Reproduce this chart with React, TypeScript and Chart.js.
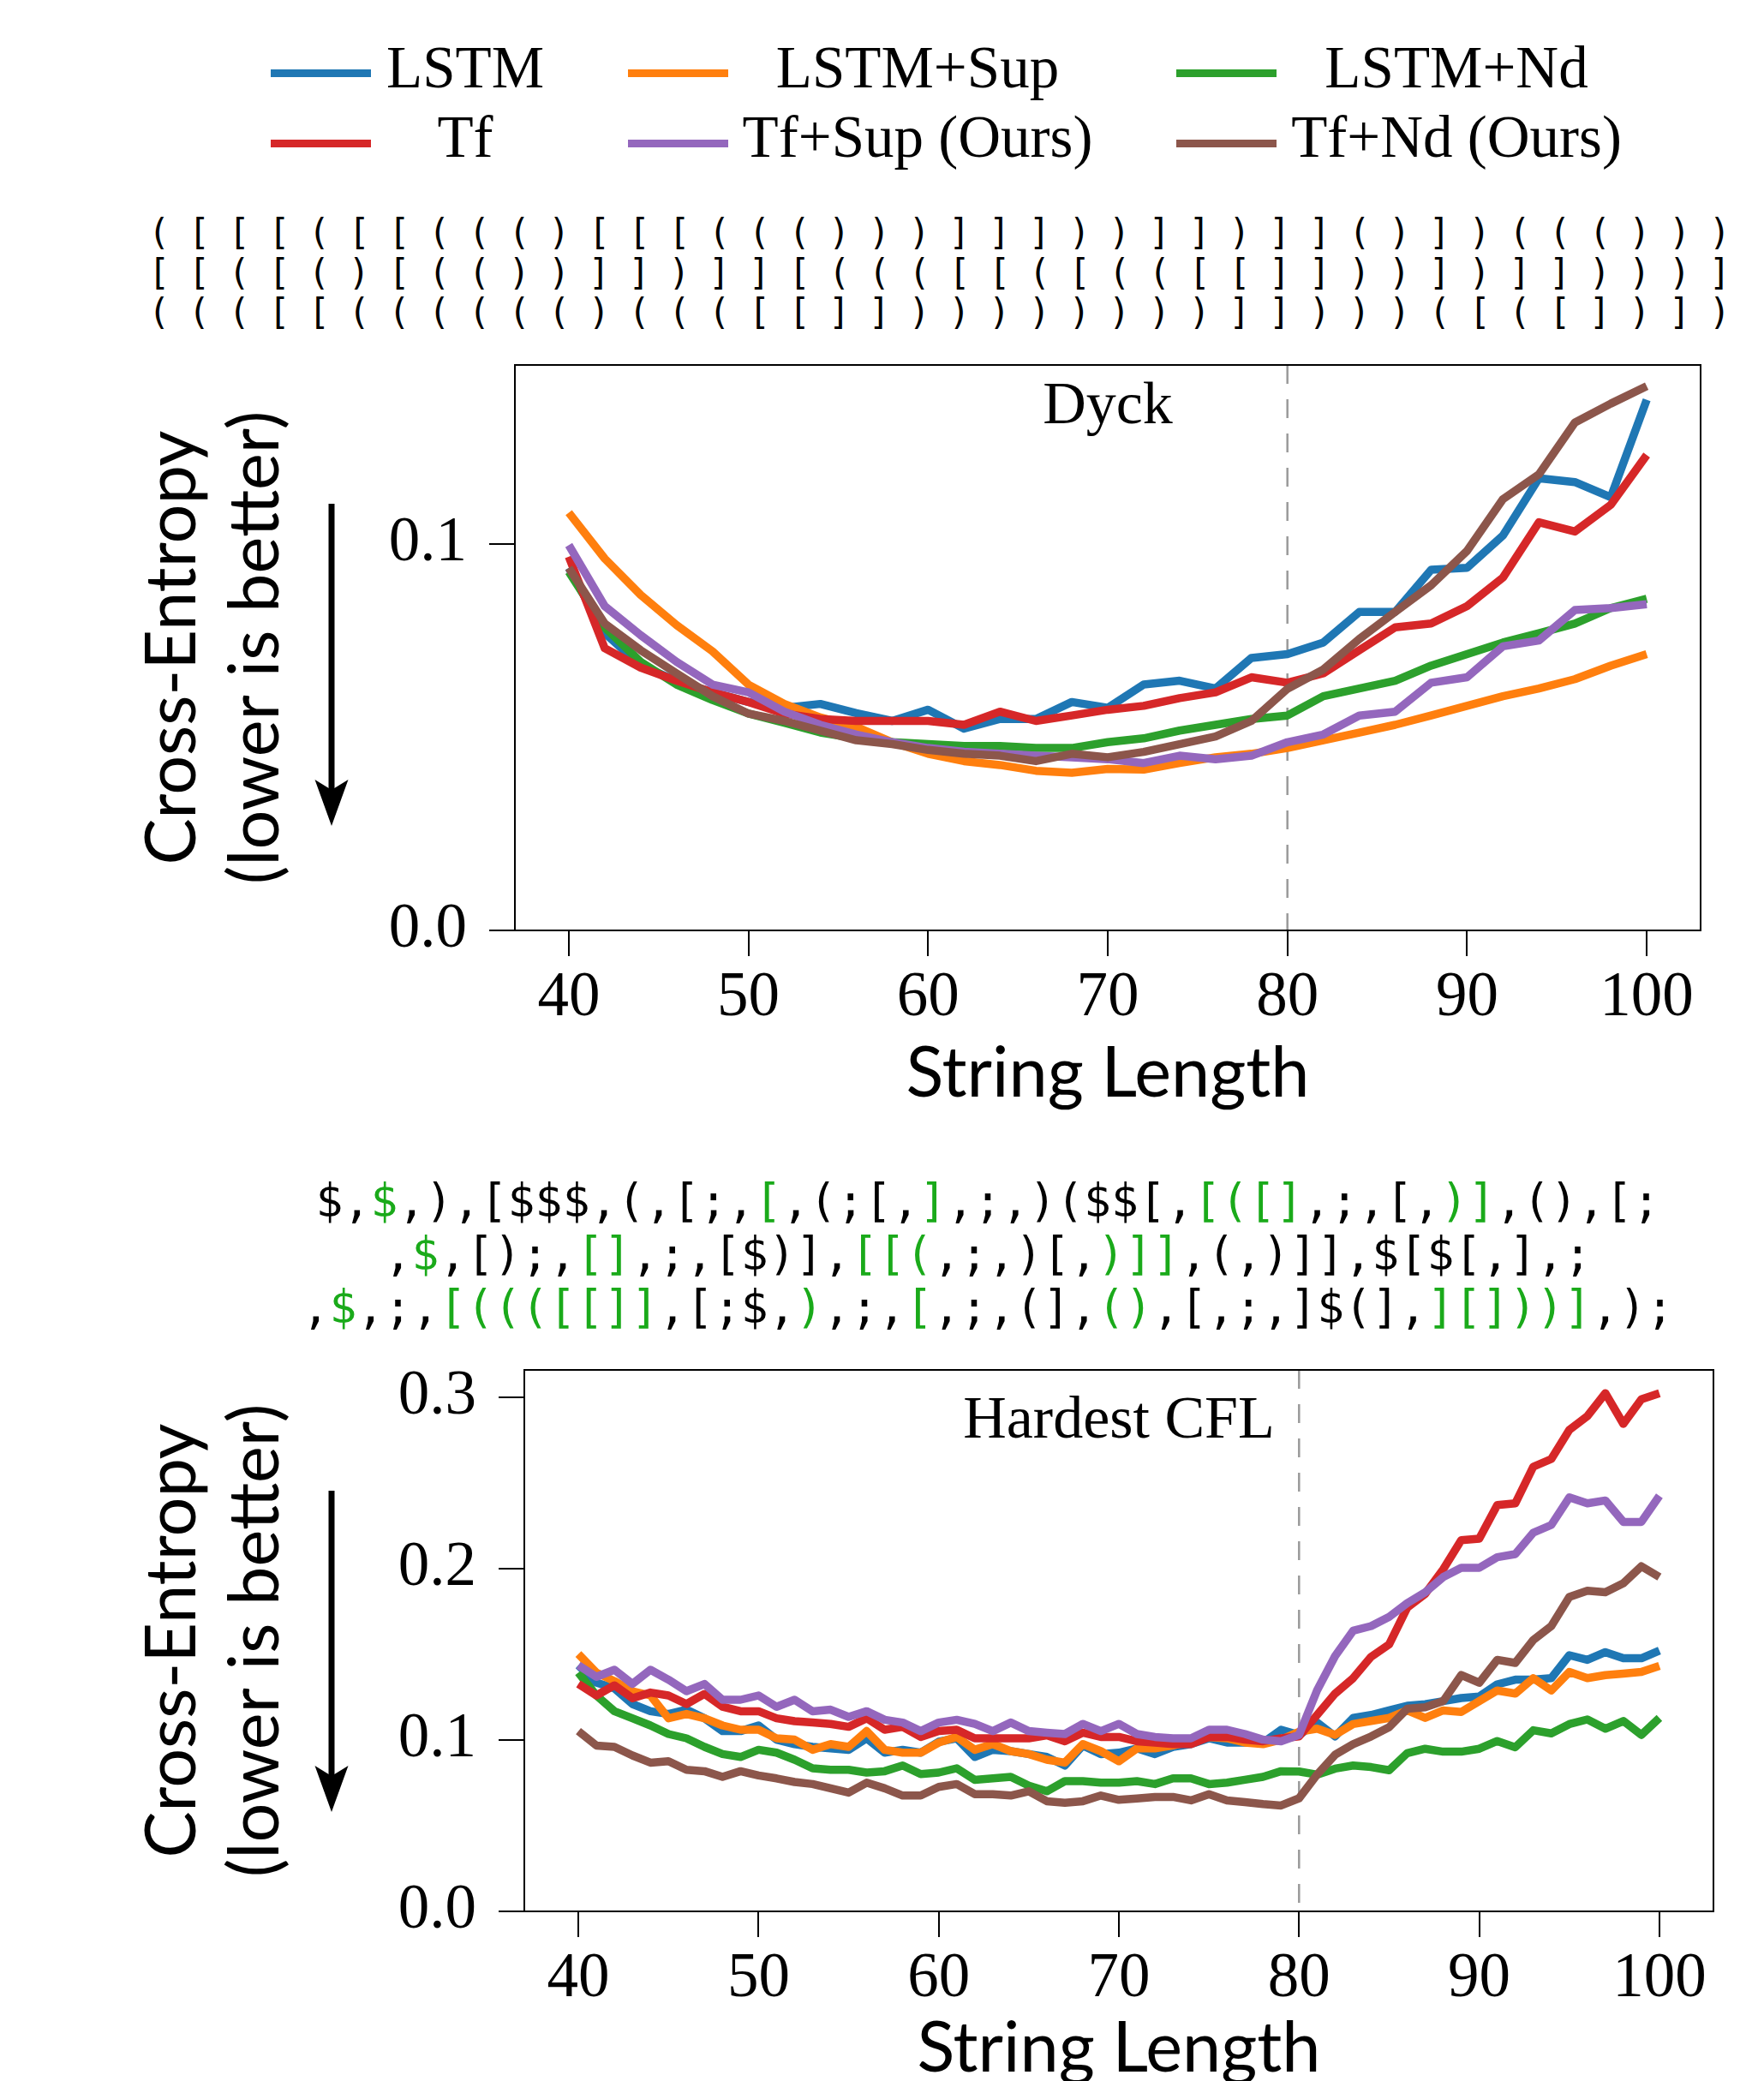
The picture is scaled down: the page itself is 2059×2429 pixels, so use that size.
import React, { useEffect, useRef } from 'react';
import { Chart, registerables } from 'chart.js';

Chart.register(...registerables);

// ---------------- data ----------------
const SERIES_LABELS = ['LSTM', 'LSTM+Sup', 'LSTM+Nd', 'Tf', 'Tf+Sup (Ours)', 'Tf+Nd (Ours)'];
const SERIES_COLORS = ['#1f77b4', '#ff7f0e', '#2ca02c', '#d62728', '#9467bd', '#8c564b'];

const X_TICKS = [40, 50, 60, 70, 80, 90, 100];
const DYCK_Y_TICKS = [0, 0.1];
const CFL_Y_TICKS = [0, 0.1, 0.2, 0.3];

const DYCK_LENGTHS = [40, 42, 44, 46, 48, 50, 52, 54, 56, 58, 60, 62, 64, 66, 68, 70, 72, 74, 76, 78, 80, 82, 84, 86, 88, 90, 92, 94, 96, 98, 100];
const DYCK_LSTM = [0.0938, 0.0769, 0.0685, 0.0646, 0.0616, 0.0591, 0.0576, 0.0586, 0.0562, 0.0542, 0.0571, 0.0522, 0.0547, 0.0547, 0.0591, 0.0576, 0.0636, 0.0646, 0.0626, 0.0705, 0.0715, 0.0745, 0.0824, 0.0824, 0.0933, 0.0938, 0.1022, 0.1170, 0.1160, 0.1121, 0.1373];
const DYCK_LSTM_SUP = [0.1081, 0.0962, 0.0868, 0.0790, 0.0722, 0.0636, 0.0586, 0.0551, 0.0527, 0.0487, 0.0457, 0.0438, 0.0428, 0.0413, 0.0408, 0.0418, 0.0416, 0.0433, 0.0448, 0.0457, 0.0472, 0.0492, 0.0512, 0.0532, 0.0556, 0.0581, 0.0606, 0.0626, 0.0650, 0.0685, 0.0715];
const DYCK_LSTM_ND = [0.0928, 0.0784, 0.0695, 0.0636, 0.0596, 0.0561, 0.0537, 0.0512, 0.0497, 0.0487, 0.0482, 0.0477, 0.0477, 0.0472, 0.0472, 0.0487, 0.0497, 0.0517, 0.0532, 0.0547, 0.0556, 0.0606, 0.0626, 0.0646, 0.0685, 0.0715, 0.0745, 0.0769, 0.0794, 0.0834, 0.0858];
const DYCK_TF = [0.0967, 0.0730, 0.0680, 0.0646, 0.0616, 0.0591, 0.0561, 0.0547, 0.0542, 0.0542, 0.0542, 0.0532, 0.0566, 0.0542, 0.0556, 0.0571, 0.0581, 0.0601, 0.0616, 0.0655, 0.0641, 0.0665, 0.0725, 0.0784, 0.0794, 0.0839, 0.0913, 0.1056, 0.1032, 0.1101, 0.1230];
const DYCK_TF_SUP = [0.0997, 0.0839, 0.0764, 0.0695, 0.0636, 0.0616, 0.0566, 0.0532, 0.0507, 0.0487, 0.0472, 0.0462, 0.0457, 0.0452, 0.0448, 0.0443, 0.0433, 0.0452, 0.0443, 0.0452, 0.0487, 0.0507, 0.0556, 0.0566, 0.0641, 0.0655, 0.0735, 0.0750, 0.0829, 0.0834, 0.0844];
const DYCK_TF_ND = [0.0938, 0.0794, 0.0725, 0.0665, 0.0606, 0.0561, 0.0542, 0.0517, 0.0492, 0.0482, 0.0467, 0.0457, 0.0452, 0.0438, 0.0457, 0.0448, 0.0462, 0.0482, 0.0502, 0.0542, 0.0625, 0.0675, 0.0754, 0.0824, 0.0893, 0.0982, 0.1116, 0.1180, 0.1314, 0.1363, 0.1408];

const CFL_LENGTHS = [40, 41, 42, 43, 44, 45, 46, 47, 48, 49, 50, 51, 52, 53, 54, 55, 56, 57, 58, 59, 60, 61, 62, 63, 64, 65, 66, 67, 68, 69, 70, 71, 72, 73, 74, 75, 76, 77, 78, 79, 80, 81, 82, 83, 84, 85, 86, 87, 88, 89, 90, 91, 92, 93, 94, 95, 96, 97, 98, 99, 100];
const CFL_LSTM = [
  0.1436, 0.1335, 0.1302, 0.1210, 0.1168, 0.1152, 0.1177, 0.1127, 0.1052, 0.1052,
  0.1085, 0.1002, 0.0976, 0.0960, 0.0951, 0.0943, 0.1010, 0.0926, 0.0943, 0.0926,
  0.0990, 0.1010, 0.0901, 0.0943, 0.0935, 0.0918, 0.0901, 0.0851, 0.0968, 0.0918,
  0.0926, 0.0951, 0.0918, 0.0960, 0.0976, 0.1010, 0.0985, 0.0985, 0.0985, 0.1060,
  0.1030, 0.1102, 0.1021, 0.1129, 0.1146, 0.1173, 0.1200, 0.1209, 0.1227, 0.1245,
  0.1254, 0.1325, 0.1352, 0.1352, 0.1361, 0.1495, 0.1468, 0.1513, 0.1477, 0.1477, 0.1522];
const CFL_LSTM_SUP = [
  0.1502, 0.1394, 0.1344, 0.1285, 0.1260, 0.1127, 0.1152, 0.1127, 0.1085, 0.1060,
  0.1060, 0.1010, 0.1002, 0.0943, 0.0976, 0.0960, 0.1052, 0.0943, 0.0926, 0.0926,
  0.0985, 0.1018, 0.0943, 0.0976, 0.0935, 0.0918, 0.0885, 0.0868, 0.0976, 0.0935,
  0.0876, 0.0951, 0.0951, 0.0968, 0.0993, 0.1018, 0.1010, 0.0985, 0.0976, 0.1002,
  0.1048, 0.1066, 0.1030, 0.1093, 0.1111, 0.1129, 0.1173, 0.1129, 0.1173, 0.1164,
  0.1227, 0.1289, 0.1271, 0.1361, 0.1289, 0.1397, 0.1361, 0.1379, 0.1388, 0.1397, 0.1433];
const CFL_LSTM_ND = [
  0.1394, 0.1260, 0.1168, 0.1127, 0.1085, 0.1035, 0.1010, 0.0960, 0.0918, 0.0901,
  0.0943, 0.0926, 0.0885, 0.0835, 0.0826, 0.0826, 0.0810, 0.0818, 0.0851, 0.0801,
  0.0810, 0.0835, 0.0768, 0.0776, 0.0785, 0.0734, 0.0701, 0.0760, 0.0760, 0.0751,
  0.0751, 0.0760, 0.0743, 0.0776, 0.0776, 0.0743, 0.0751, 0.0768, 0.0785, 0.0818,
  0.0816, 0.0798, 0.0833, 0.0851, 0.0842, 0.0824, 0.0923, 0.0949, 0.0932, 0.0932,
  0.0949, 0.0994, 0.0958, 0.1057, 0.1039, 0.1093, 0.1120, 0.1066, 0.1111, 0.1030, 0.1129];
const CFL_TF = [
  0.1327, 0.1260, 0.1319, 0.1244, 0.1277, 0.1260, 0.1210, 0.1269, 0.1194, 0.1168,
  0.1168, 0.1127, 0.1110, 0.1102, 0.1094, 0.1077, 0.1127, 0.1060, 0.1077, 0.1018,
  0.1052, 0.1060, 0.1010, 0.1010, 0.1010, 0.1010, 0.1027, 0.0993, 0.1043, 0.1018,
  0.1018, 0.0993, 0.0985, 0.0976, 0.0976, 0.1018, 0.1018, 0.1002, 0.0993, 0.1010,
  0.1021, 0.1146, 0.1271, 0.1361, 0.1486, 0.1558, 0.1772, 0.1853, 0.1996, 0.2166,
  0.2175, 0.2371, 0.2381, 0.2595, 0.2640, 0.2810, 0.2890, 0.3024, 0.2845, 0.2989, 0.3024];
const CFL_TF_SUP = [
  0.1436, 0.1369, 0.1410, 0.1327, 0.1410, 0.1352, 0.1285, 0.1327, 0.1235, 0.1235,
  0.1260, 0.1194, 0.1235, 0.1168, 0.1177, 0.1135, 0.1168, 0.1118, 0.1102, 0.1052,
  0.1102, 0.1118, 0.1094, 0.1052, 0.1102, 0.1052, 0.1043, 0.1035, 0.1094, 0.1052,
  0.1094, 0.1035, 0.1018, 0.1010, 0.1010, 0.1060, 0.1060, 0.1035, 0.1002, 0.0993,
  0.1030, 0.1290, 0.1490, 0.1638, 0.1665, 0.1719, 0.1799, 0.1862, 0.1951, 0.2005,
  0.2005, 0.2067, 0.2085, 0.2210, 0.2255, 0.2416, 0.2381, 0.2398, 0.2273, 0.2273, 0.2425];
const CFL_TF_ND = [
  0.1052, 0.0968, 0.0960, 0.0910, 0.0868, 0.0876, 0.0826, 0.0818, 0.0785, 0.0818,
  0.0793, 0.0776, 0.0755, 0.0743, 0.0718, 0.0693, 0.0751, 0.0718, 0.0676, 0.0676,
  0.0726, 0.0743, 0.0684, 0.0684, 0.0676, 0.0701, 0.0643, 0.0634, 0.0643, 0.0676,
  0.0651, 0.0659, 0.0668, 0.0668, 0.0648, 0.0684, 0.0648, 0.0638, 0.0626, 0.0618,
  0.0660, 0.0798, 0.0914, 0.0976, 0.1021, 0.1075, 0.1182, 0.1191, 0.1227, 0.1379,
  0.1334, 0.1468, 0.1450, 0.1584, 0.1665, 0.1835, 0.1871, 0.1862, 0.1915, 0.2014, 0.1951];

const DYCK_STRINGS = [
  '( [ [ [ ( [ [ ( ( ( ) [ [ [ ( ( ( ) ) ) ] ] ] ) ) ] ] ) ] ] ( ) ] ) ( ( ( ) ) )',
  '[ [ ( [ ( ) [ ( ( ) ) ] ] ) ] ] [ ( ( ( [ [ ( [ ( ( [ [ ] ] ) ) ] ) ] ] ) ) ) ]',
  '( ( ( [ [ ( ( ( ( ( ( ) ( ( ( [ [ ] ] ) ) ) ) ) ) ) ) ] ] ) ) ) ( [ ( [ ] ) ] )',
];
const CFL_STRINGS = [
  '$,$,),[$$$,(,[;,[,(;[,],;,)($$[,[([],;,[,)],(),[;',
  ',$,[);,[],;,[$)],[[(,;,)[,)]],(,)]],$[$[,],;',
  ',$,;,[((([[]],[;$,),;,[,;,(],(),[,;,]$(],][]))],);',
];
const CFL_GREEN_MASKS = [
  '..g.............g.....g.........gggg.....gg......',
  '.g.....gg........ggg......ggg...............',
  '.g...gggggggg.....g...g......gg..........gggggg...',
];

const X_TITLE = 'String Length';
const Y_TITLE = ['Cross-Entropy', '(lower is better)'];
const DYCK_TITLE = 'Dyck';
const CFL_TITLE = 'Hardest CFL';

// ---------------- style ----------------
const SERIF = '"Liberation Serif", "Times New Roman", serif';
const SANS = 'Lato, "Open Sans", sans-serif';
const MONO = '"DejaVu Sans Mono", monospace';
const GREEN = '#1aaa1a';
const W = 2059;

const decorPlugin = {
  id: 'panelDecor',
  beforeDatasetsDraw(chart: any, _args: any, opts: any) {
    const { ctx, chartArea } = chart;
    const px = chart.scales.x.getPixelForValue(opts.dashedAt);
    ctx.save();
    ctx.strokeStyle = '#9a9a9a';
    ctx.lineWidth = 2.5;
    ctx.setLineDash([22, 18]);
    ctx.beginPath();
    ctx.moveTo(px, chartArea.top);
    ctx.lineTo(px, chartArea.bottom);
    ctx.stroke();
    ctx.restore();
  },
  afterDraw(chart: any, _args: any, opts: any) {
    const { ctx, chartArea } = chart;
    ctx.save();
    ctx.strokeStyle = '#000';
    ctx.lineWidth = 2;
    ctx.strokeRect(chartArea.left, chartArea.top, chartArea.right - chartArea.left, chartArea.bottom - chartArea.top);
    // panel title
    ctx.fillStyle = '#000';
    ctx.font = `70px ${SERIF}`;
    ctx.textAlign = 'center';
    ctx.textBaseline = 'alphabetic';
    ctx.fillText(opts.title, (chartArea.left + chartArea.right) / 2, chartArea.top + opts.titleOffset);
    // arrow
    const a = opts.arrow;
    const headW = 39;
    const headH = 54;
    ctx.fillRect(a.x - 3.5, a.y1, 7, a.y2 - headH - a.y1 + 12);
    ctx.beginPath();
    ctx.moveTo(a.x - headW / 2, a.y2 - headH);
    ctx.lineTo(a.x, a.y2 - headH + 12);
    ctx.lineTo(a.x + headW / 2, a.y2 - headH);
    ctx.lineTo(a.x, a.y2);
    ctx.closePath();
    ctx.fill();
    ctx.restore();
  },
};

type Panel = {
  canvasTop: number;
  height: number;
  plot: { left: number; right: number; top: number; bottom: number };
  yMax: number;
  yTicks: number[];
  lengths: number[];
  series: number[][];
  title: string;
  titleOffset: number;
  arrow: { x: number; y1: number; y2: number };
  xTitleCenter: number;
};

const TITLE_LH = 97;

function buildConfig(p: Panel): any {
  const datasets = SERIES_LABELS.map((label, i) => ({
    label,
    data: p.lengths.map((x, j) => ({ x, y: p.series[i][j] })),
    borderColor: SERIES_COLORS[i],
    backgroundColor: SERIES_COLORS[i],
    borderWidth: 9.5,
    pointRadius: 0,
    pointHoverRadius: 0,
    tension: 0,
    fill: false,
    borderJoinStyle: 'round',
    borderCapStyle: 'butt',
    order: SERIES_LABELS.length - i,
  }));
  const xAxisHeight = p.canvasTop + p.height - p.plot.bottom;
  const xTitlePad = p.canvasTop + p.height - p.xTitleCenter - TITLE_LH / 2;
  const tickFont = { family: SERIF, size: 73, lineHeight: 1 };
  const grid = { drawOnChartArea: false, drawTicks: true, tickLength: 30, color: '#000', lineWidth: 2 };
  const border = { display: true, color: '#000', width: 2 };
  return {
    type: 'line',
    data: { datasets },
    options: {
      animation: false,
      responsive: false,
      devicePixelRatio: 1,
      events: [],
      layout: { padding: { left: 0, right: W - p.plot.right, top: p.plot.top - p.canvasTop, bottom: 0 } },
      plugins: {
        legend: { display: false },
        tooltip: { enabled: false },
        panelDecor: {
          dashedAt: 80,
          title: p.title,
          titleOffset: p.titleOffset,
          arrow: { x: p.arrow.x, y1: p.arrow.y1 - p.canvasTop, y2: p.arrow.y2 - p.canvasTop },
        },
      },
      scales: {
        x: {
          type: 'linear',
          min: 37,
          max: 103,
          afterBuildTicks: (s: any) => { s.ticks = X_TICKS.map((v) => ({ value: v })); },
          afterFit: (s: any) => { s.height = xAxisHeight; s.paddingLeft = 0; s.paddingRight = 0; },
          ticks: { font: tickFont, color: '#000', padding: 13, maxRotation: 0, autoSkip: false, callback: (v: any) => String(v) },
          grid,
          border,
          title: { display: true, text: X_TITLE, color: '#000', font: { family: SANS, size: 81, lineHeight: TITLE_LH / 81 }, padding: { top: 0, bottom: xTitlePad } },
        },
        y: {
          type: 'linear',
          min: 0,
          max: p.yMax,
          afterBuildTicks: (s: any) => { s.ticks = p.yTicks.map((v) => ({ value: v })); },
          afterFit: (s: any) => { s.width = p.plot.left; s.paddingTop = 0; s.paddingBottom = 0; },
          ticks: { font: tickFont, color: '#000', padding: 26, autoSkip: false, callback: (v: any) => Number(v).toFixed(1) },
          grid,
          border,
          title: { display: true, text: Y_TITLE, color: '#000', font: { family: SANS, size: 81, lineHeight: TITLE_LH / 81 }, padding: { top: 153, bottom: 0 } },
        },
      },
    },
    plugins: [decorPlugin],
  };
}

const DYCK_PANEL: Panel = {
  canvasTop: 380,
  height: 950,
  plot: { left: 601, right: 1985, top: 426, bottom: 1086 },
  yMax: 0.1463,
  yTicks: DYCK_Y_TICKS,
  lengths: DYCK_LENGTHS,
  series: [DYCK_LSTM, DYCK_LSTM_SUP, DYCK_LSTM_ND, DYCK_TF, DYCK_TF_SUP, DYCK_TF_ND],
  title: DYCK_TITLE,
  titleOffset: 68,
  arrow: { x: 387, y1: 588, y2: 964 },
  xTitleCenter: 1254,
};

const CFL_PANEL: Panel = {
  canvasTop: 1560,
  height: 940,
  plot: { left: 612, right: 2000, top: 1599, bottom: 2231 },
  yMax: 0.316,
  yTicks: CFL_Y_TICKS,
  lengths: CFL_LENGTHS,
  series: [CFL_LSTM, CFL_LSTM_SUP, CFL_LSTM_ND, CFL_TF, CFL_TF_SUP, CFL_TF_ND],
  title: CFL_TITLE,
  titleOffset: 79,
  arrow: { x: 387, y1: 1740, y2: 2115 },
  xTitleCenter: 2392,
};

function ChartPanel({ panel }: { panel: Panel }) {
  const ref = useRef<HTMLCanvasElement>(null);
  useEffect(() => {
    const chart = new Chart(ref.current as HTMLCanvasElement, buildConfig(panel));
    return () => chart.destroy();
  }, [panel]);
  return (
    <canvas
      ref={ref}
      width={W}
      height={panel.height}
      style={{ position: 'absolute', left: 0, top: panel.canvasTop, width: W, height: panel.height }}
    />
  );
}

const LEG_SWATCH_X = [316, 733, 1373];
const LEG_TEXT_CX = [543, 1071, 1700];
const LEG_ROW_Y = [85, 167];
const LEG_BASE_Y = [103, 184];

function Legend() {
  return (
    <>
      {SERIES_LABELS.map((label, i) => {
        const row = Math.floor(i / 3);
        const col = i % 3;
        return (
          <React.Fragment key={label}>
            <div style={{ position: 'absolute', left: LEG_SWATCH_X[col], top: LEG_ROW_Y[row] - 4.5, width: 117, height: 9, background: SERIES_COLORS[i] }} />
            <div style={{ position: 'absolute', left: LEG_TEXT_CX[col] - 300, width: 600, top: LEG_BASE_Y[row] - 58, height: 69, lineHeight: '69px', fontSize: 69, fontFamily: SERIF, textAlign: 'center', whiteSpace: 'pre', color: '#000' }}>{label}</div>
          </React.Fragment>
        );
      })}
    </>
  );
}

function colored(s: string, mask: string) {
  const parts: { text: string; green: boolean }[] = [];
  for (let i = 0; i < s.length; i++) {
    const g = mask[i] === 'g';
    const last = parts[parts.length - 1];
    if (last && last.green === g) last.text += s[i];
    else parts.push({ text: s[i], green: g });
  }
  return parts.map((p, k) => (
    <span key={k} style={{ color: p.green ? GREEN : '#000' }}>{p.text}</span>
  ));
}

export default function App() {
  return (
    <div style={{ position: 'absolute', left: 0, top: 0, width: W, height: 2429, overflow: 'hidden', background: '#fff' }}>
      <Legend />
      <div style={{ position: 'absolute', left: 173, top: 249.4, fontFamily: MONO, fontSize: 42, letterSpacing: '-1.93px', lineHeight: '46.5px', whiteSpace: 'pre', color: '#000' }}>
        {DYCK_STRINGS.map((s, i) => <div key={i}>{s}</div>)}
      </div>
      <div style={{ position: 'absolute', left: 153, width: 2000, top: 1370.6, fontFamily: MONO, fontSize: 53.2, lineHeight: '62px', textAlign: 'center', whiteSpace: 'pre' }}>
        {CFL_STRINGS.map((s, i) => <div key={i}>{colored(s, CFL_GREEN_MASKS[i])}</div>)}
      </div>
      <ChartPanel panel={DYCK_PANEL} />
      <ChartPanel panel={CFL_PANEL} />
    </div>
  );
}
